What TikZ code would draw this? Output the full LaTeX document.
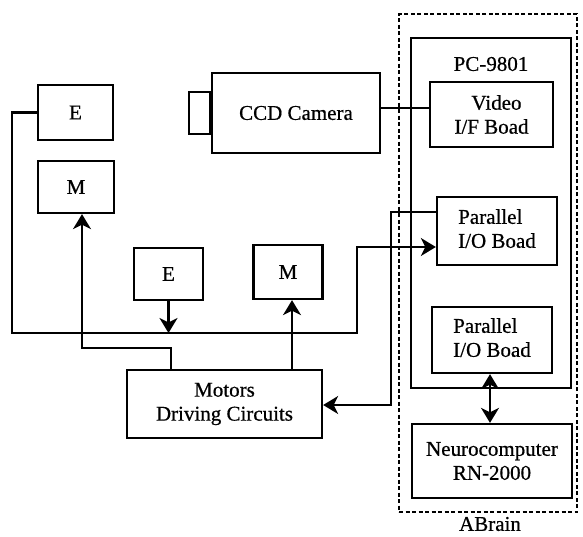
\documentclass[tikz,border=0pt]{standalone}
\usepackage{fontspec}
\setmainfont{Liberation Serif}[FakeBold=0.6]
\usetikzlibrary{arrows.meta,calc}
\begin{document}
\begin{tikzpicture}[x=1pt,y=-1pt,
  line width=2.3pt,
  box/.style={draw,line width=2.3pt,rectangle,inner sep=0pt,
    font=\fontsize{21}{24}\selectfont,align=center},
  lbl/.style={inner sep=0pt,font=\fontsize{21}{24}\selectfont,align=center},
  conn/.style={line width=2.3pt},
  arr/.style={conn,-{Stealth[length=15pt,width=18pt,inset=4.5pt]}},
  darr/.style={conn,{Stealth[length=15pt,width=18pt,inset=4.5pt]}-{Stealth[length=15pt,width=18pt,inset=4.5pt]}}
]
\useasboundingbox (0,0) rectangle (583,536);

% ABrain dashed enclosure and PC box
\node[draw,line width=2.3pt,dash pattern=on 4pt off 2.5pt,inner sep=0pt,
  minimum width=178pt,minimum height=498pt] (abrain) at (488,263) {};
\node[draw,line width=2.3pt,inner sep=0pt,
  minimum width=160pt,minimum height=350pt] (pc) at (491,213) {};
\node[lbl] (pclbl) at (491,64) {PC-9801};
\node[lbl] (ablbl) at (490,524) {ABrain};

% boxes
\node[box,minimum width=75pt,minimum height=55pt] (E1) at (75.5,112.5) {E};
\node[box,minimum width=76pt,minimum height=52pt] (M1) at (76,187) {M};
\node[box,minimum width=168pt,minimum height=80pt] (cam) at (296,113) {CCD Camera};
\node[draw,line width=2.3pt,inner sep=0pt,minimum width=21pt,minimum height=42pt,anchor=east] (lens) at (cam.west) {};
\node[box,minimum width=123pt,minimum height=65pt] (vid) at (491.5,114.5) {\hspace*{10pt}Video\\I/F Boad};
\node[box,minimum width=120pt,minimum height=68pt] (par1) at (497,231) {\begin{tabular}{@{}l@{}}Parallel\\I/O Boad\end{tabular}};
\node[box,minimum width=120pt,minimum height=66pt] (par2) at (492,340) {\begin{tabular}{@{}l@{}}Parallel\\I/O Boad\end{tabular}};
\node[box,minimum width=160pt,minimum height=74pt] (neuro) at (492,461) {Neurocomputer\\RN-2000};
\node[box,minimum width=69pt,minimum height=52pt] (E2) at (168.5,274) {E};
\node[box,minimum width=69pt,minimum height=54pt] (M2) at (288,272) {M};
\node[box,minimum width=195pt,minimum height=68pt] (mot) at (224.5,404) {Motors\\Driving Circuits};

% coordinates for line corners
\coordinate (cL2) at (12,333);
\coordinate (cL3) at (357,333);
\coordinate (cL4) at (357,247);
\coordinate (cR1) at (391,212);
\coordinate (cR2) at (391,405);
\coordinate (cM1) at (171,348);
\coordinate (cM2) at (82,348);
\coordinate (mtopA) at (171,370);
\coordinate (mtopB) at (292,370);

% connectors
\draw[conn] ($(cam.east)+(0,-5)$) -- ($(cam.east -| vid.west)+(0,-5)$);
\draw[arr] (E1.west) -- (E1.west -| cL2) -- (cL2) -- (cL3) -- (cL4) -- (cL4 -| par1.west);
\draw[arr] (cR1 -| par1.west) -- (cR1) -- (cR2) -- (cR2 -| mot.east);
\draw[arr] (E2.south) -- (E2.south |- cL2);
\draw[arr] (mot.north -| mtopB) -- (mtopB |- M2.south);
\draw[arr] (mot.north -| mtopA) -- (cM1) -- (cM2) -- (cM2 |- M1.south);
\draw[darr] (par2.south -| 490,0) -- (neuro.north -| 490,0);
\end{tikzpicture}
\end{document}
